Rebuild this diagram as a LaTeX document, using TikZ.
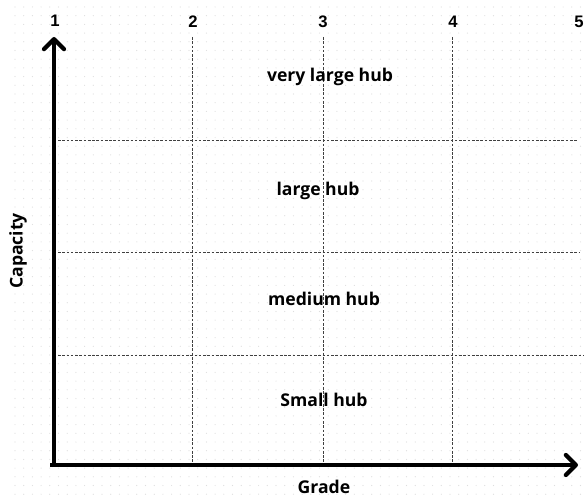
\documentclass[tikz,border=0pt]{standalone}
\usepackage{fontspec}
\setmainfont{Open Sans}
\newfontfamily\numfont{Liberation Sans}
\usetikzlibrary{arrows.meta}
\tikzset{
  axisline/.style={line width=3.2pt, -{Straight Barb[length=7.5pt,width=15pt,line cap=round,line join=round]}},
  gridline/.style={line width=0.6pt, black!75, dash pattern=on 2pt off 1.2pt},
  hublabel/.style={font=\bfseries\fontsize{13.2}{15}\selectfont, text=black, inner sep=0pt},
  numlabel/.style={font=\numfont\bfseries\fontsize{12.5}{14}\selectfont, inner sep=0pt},
}
\begin{document}
\begin{tikzpicture}[x=0.75pt,y=-0.75pt]
\useasboundingbox (0,0) rectangle (584,498);
\fill[white] (0,0) rectangle (584,498);
% dot grid
\foreach \i in {0,...,66}{
  \foreach \j in {0,...,56}{
    \fill[black!13] ({15+8.7*\i},{7+8.7*\j}) circle (0.45pt);
  }
}
% coordinates
\coordinate (O) at (54,465);
\coordinate (ytip) at (54,37);
\coordinate (xtip) at (578,465);
\coordinate (v2t) at (192,37);  \coordinate (v2b) at (192,463);
\coordinate (v3t) at (323,37);  \coordinate (v3b) at (323,463);
\coordinate (v4t) at (452,37);  \coordinate (v4b) at (452,463);
\coordinate (h1l) at (58,140);  \coordinate (h1r) at (578,140);
\coordinate (h2l) at (58,252);  \coordinate (h2r) at (580,252);
\coordinate (h3l) at (58,355);  \coordinate (h3r) at (584,355);
% dashed grid
\draw[gridline] (v2t) -- (v2b);
\draw[gridline] (v3t) -- (v3b);
\draw[gridline] (v4t) -- (v4b);
\draw[gridline] (h1l) -- (h1r);
\draw[gridline] (h2l) -- (h2r);
\draw[gridline] (h3l) -- (h3r);
% axes
\draw[axisline] ([xshift=-3pt]O) -- (xtip);
\draw[axisline] ([yshift=-1.5pt]O) -- (ytip);
% numbers
\node[numlabel] (n1) at (55,21) {1};
\node[numlabel] (n2) at (193,22) {2};
\node[numlabel] (n3) at (323,22) {3};
\node[numlabel] (n4) at (453,22) {4};
\node[numlabel] (n5) at (579,22) {5};
% labels
\node[hublabel] (vl) at (330,77) {very large hub};
\node[hublabel] (lh) at (318,191) {large hub};
\node[hublabel] (mh) at (324,299) {medium hub};
\node[hublabel] (sh) at (324,400) {Small hub};
\node[hublabel] (grade) at (324,487) {Grade};
\node[hublabel, rotate=90] (cap) at (18,251) {Capacity};
\end{tikzpicture}
\end{document}
